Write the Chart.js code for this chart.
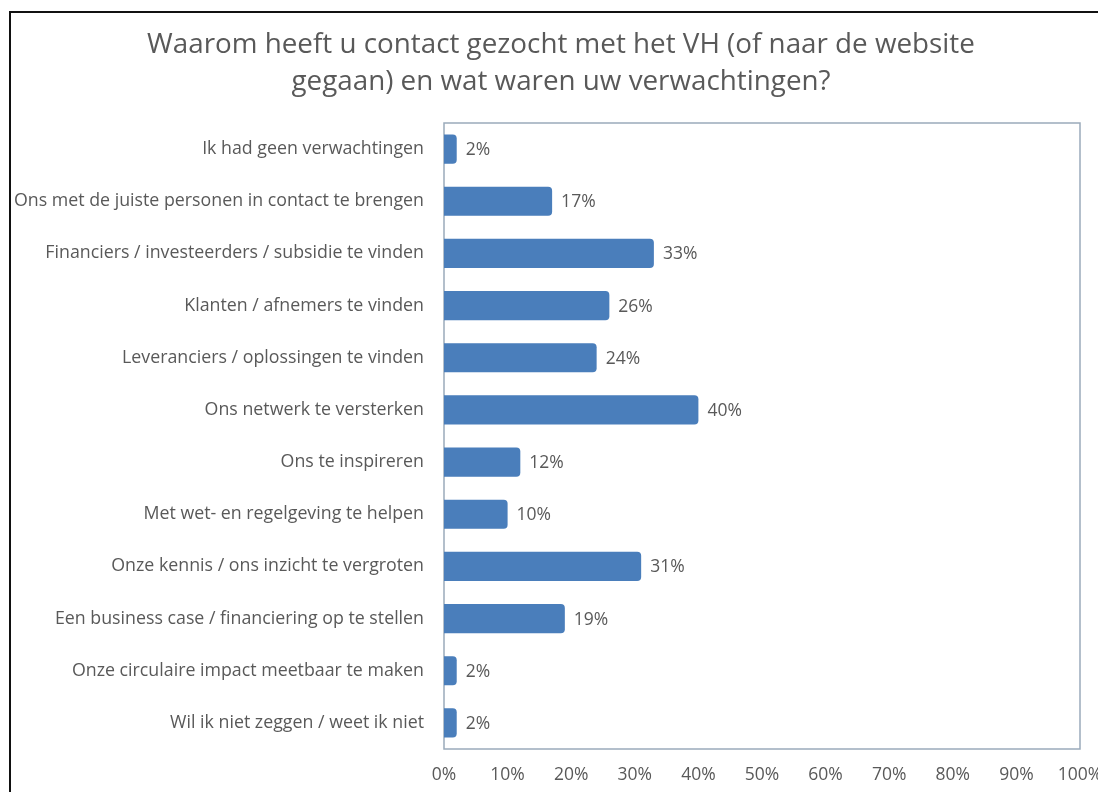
<!DOCTYPE html>
<html>
<head>
<meta charset="utf-8">
<script src="https://cdn.jsdelivr.net/npm/chart.js@4.4.1/dist/chart.umd.min.js"></script>
<style>
  html, body { margin: 0; padding: 0; background: #fff; }
  #wrap { position: relative; width: 1098px; height: 792px; overflow: hidden; }
  #frame { position: absolute; left: 9px; top: 11px; width: 1200px; height: 900px; border: 2px solid #111; }
  #chart { position: absolute; left: 0; top: 0; }
</style>
</head>
<body>
<div id="wrap">
  <div id="frame"></div>
  <canvas id="chart" width="1098" height="792"></canvas>
</div>
<script>
var titleLines = [
    "Waarom heeft u contact gezocht met het VH (of naar de website",
    "gegaan) en wat waren uw verwachtingen?"
];
var categories = [
    "Ik had geen verwachtingen",
    "Ons met de juiste personen in contact te brengen",
    "Financiers / investeerders / subsidie te vinden",
    "Klanten / afnemers te vinden",
    "Leveranciers / oplossingen te vinden",
    "Ons netwerk te versterken",
    "Ons te inspireren",
    "Met wet- en regelgeving te helpen",
    "Onze kennis / ons inzicht te vergroten",
    "Een business case / financiering op te stellen",
    "Onze circulaire impact meetbaar te maken",
    "Wil ik niet zeggen / weet ik niet"
];
var percentages = [2, 17, 33, 26, 24, 40, 12, 10, 31, 19, 2, 2];
var xTicks = [0, 10, 20, 30, 40, 50, 60, 70, 80, 90, 100];

var textColor = "#595959";
var fontFamily = "'Open Sans', 'Noto Sans', sans-serif";

// two-line title, centred over the whole original chart
var chartTitle = {
    id: "chartTitle",
    afterDraw: function (chart) {
        var c = chart.ctx;
        c.save();
        c.fillStyle = textColor;
        c.font = "27.8px " + fontFamily;
        c.textAlign = "center";
        c.textBaseline = "middle";
        titleLines.forEach(function (line, i) {
            c.fillText(line, 561, 45 + i * 37);
        });
        c.restore();
    }
};

// frame around the plot area
var plotBorder = {
    id: "plotBorder",
    beforeDatasetsDraw: function (chart) {
        var a = chart.chartArea;
        var c = chart.ctx;
        c.save();
        c.strokeStyle = "#9aaabb";
        c.lineWidth = 1.5;
        c.strokeRect(a.left, a.top, a.right - a.left, a.bottom - a.top);
        c.restore();
    }
};

// percentage labels right of each bar
var barLabels = {
    id: "barLabels",
    afterDatasetsDraw: function (chart) {
        var c = chart.ctx;
        var meta = chart.getDatasetMeta(0);
        c.save();
        c.fillStyle = textColor;
        c.font = "17.5px " + fontFamily;
        c.textAlign = "left";
        c.textBaseline = "middle";
        meta.data.forEach(function (bar, i) {
            c.fillText(percentages[i] + "%", bar.x + 9, bar.y + 1);
        });
        c.restore();
    }
};

var ctx = document.getElementById("chart");
var chart = new Chart(ctx, {
    type: "bar",
    data: {
        labels: categories,
        datasets: [
            {
                data: percentages,
                backgroundColor: "#4a7ebb",
                borderWidth: 0,
                borderRadius: { topRight: 4, bottomRight: 4 },
                borderSkipped: "start",
                categoryPercentage: 1.0,
                barPercentage: 0.56
            }
        ]
    },
    options: {
        indexAxis: "y",
        responsive: false,
        animation: false,
        layout: { padding: { left: 0, right: 18, top: 123, bottom: 0 } },
        plugins: {
            legend: { display: false },
            tooltip: { enabled: false },
            title: { display: false }
        },
        scales: {
            x: {
                min: 0,
                max: 100,
                afterBuildTicks: function (axis) {
                    axis.ticks = xTicks.map(function (v) { return { value: v }; });
                },
                afterFit: function (axis) {
                    axis.height = 43;
                    axis.paddingLeft = 0;
                    axis.paddingRight = 0;
                },
                grid: { display: false, drawTicks: false },
                border: { display: false },
                ticks: {
                    color: textColor,
                    font: { family: fontFamily, size: 17.5 },
                    padding: 16,
                    maxRotation: 0,
                    callback: function (v) { return v + "%"; }
                }
            },
            y: {
                afterFit: function (axis) {
                    axis.width = 444;
                    axis.paddingTop = 0;
                    axis.paddingBottom = 0;
                },
                grid: { display: false, drawTicks: false },
                border: { display: false },
                ticks: {
                    color: textColor,
                    font: { family: fontFamily, size: 17.8 },
                    padding: 20,
                    autoSkip: false
                }
            }
        }
    },
    plugins: [plotBorder, barLabels, chartTitle]
});
</script>
</body>
</html>
